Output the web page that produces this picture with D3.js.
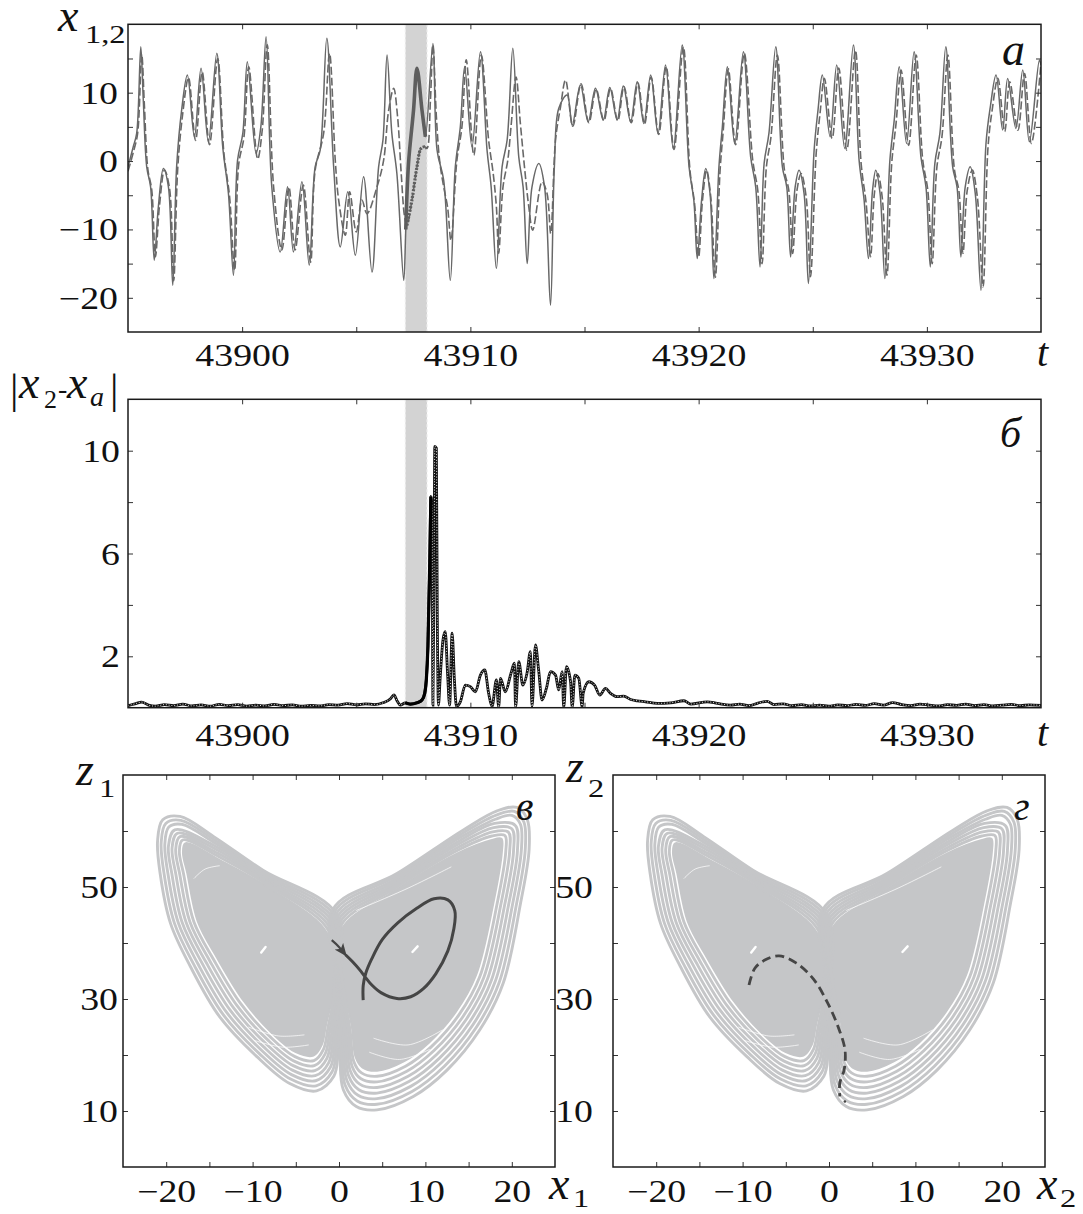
<!DOCTYPE html>
<html>
<head>
<meta charset="utf-8">
<script src="https://cdn.jsdelivr.net/npm/d3@7"></script>
<style>body{margin:0;background:#fff}</style>
</head>
<body>
<script>
// ---- data ----
const tTicks = [43900, 43910, 43920, 43930];
const tMinor = [43900, 43905, 43910, 43915, 43920, 43925, 43930];
const aTicks = [-20, -10, 0, 10];
const aMinor = [-20, -15, -10, -5, 0, 5, 10, 15];
const bTicks = [2, 6, 10];
const bMinor = [2, 4, 6, 8, 10];
const xyTicks = [-20, -10, 0, 10, 20];
const xyMinor = [-20, -15, -10, -5, 0, 5, 10, 15, 20];
const zTicks = [10, 30, 50];
const zMinor = [10, 20, 30, 40, 50, 60];
const shadeT = [43907.15, 43908.1];

// x1 (solid)
const x1 = [[43895.0,-0.84],[43895.23,2.09],[43895.38,4.04],[43895.56,16.73],[43895.67,8.9],[43895.82,-0.84],[43895.99,-3.77],[43896.15,-14.5],[43896.33,-6.7],[43896.55,-1.09],[43896.77,-3.77],[43896.96,-18.17],[43897.13,-0.84],[43897.35,7.45],[43897.6,12.58],[43897.91,3.55],[43898.2,13.56],[43898.52,2.82],[43898.89,15.75],[43899.15,2.09],[43899.4,-4.75],[43899.62,-16.7],[43899.8,0.13],[43900.03,4.04],[43900.23,14.53],[43900.61,1.11],[43900.82,5.01],[43901.05,18.19],[43901.3,-3.77],[43901.67,-13.29],[43901.99,-3.77],[43902.25,-13.29],[43902.62,-3.04],[43902.94,-15.24],[43903.2,-0.84],[43903.42,1.6],[43903.71,17.95],[43904.01,-0.84],[43904.3,-12.56],[43904.63,-4.5],[43904.96,-13.78],[43905.32,-2.31],[43905.69,-16.22],[43905.98,-0.84],[43906.17,3.06],[43906.35,15.51],[43906.56,4.04],[43906.78,-1.82],[43907.08,-17.44],[43907.17,-10.0],[43907.29,-0.35],[43907.51,7.45],[43907.66,13.56],[43907.88,7.45],[43908.03,3.55],[43908.36,17.2],[43908.54,1.6],[43908.83,-2.8],[43909.12,-17.44],[43909.34,-0.84],[43909.56,5.01],[43909.75,13.8],[43910.07,2.09],[43910.44,16.0],[43910.73,1.6],[43910.91,-3.77],[43911.14,-15.73],[43911.39,-0.84],[43911.61,3.06],[43911.86,16.48],[43912.12,0.62],[43912.31,-3.77],[43912.49,-15.0],[43912.7,-3.77],[43913.0,-0.35],[43913.25,-3.77],[43913.51,-21.1],[43913.68,-0.84],[43913.87,7.7],[43914.24,9.65],[43914.46,5.26],[43914.82,11.12],[43915.16,5.75],[43915.48,10.63],[43915.82,5.99],[43916.11,10.77],[43916.43,5.99],[43916.7,10.97],[43917.02,5.75],[43917.31,11.6],[43917.6,5.5],[43917.9,12.58],[43918.22,4.04],[43918.55,14.04],[43918.89,1.84],[43919.28,16.97],[43919.58,-0.84],[43919.79,-5.72],[43919.94,-14.26],[43920.13,-5.72],[43920.31,-1.09],[43920.5,-4.75],[43920.67,-17.19],[43920.89,-0.84],[43921.04,5.01],[43921.26,13.8],[43921.58,2.57],[43921.96,16.0],[43922.28,0.62],[43922.5,-3.77],[43922.69,-15.48],[43922.87,-0.35],[43923.08,4.04],[43923.38,16.73],[43923.67,-0.84],[43923.86,-3.77],[43924.03,-14.02],[43924.23,-3.77],[43924.4,-1.33],[43924.62,-4.75],[43924.81,-17.92],[43925.06,1.6],[43925.23,7.45],[43925.42,12.58],[43925.76,3.55],[43926.05,14.04],[43926.4,1.84],[43926.78,16.97],[43927.03,0.13],[43927.25,-5.72],[43927.44,-14.26],[43927.62,-4.26],[43927.76,-1.33],[43927.95,-4.75],[43928.16,-17.19],[43928.38,0.13],[43928.57,5.99],[43928.79,13.8],[43929.11,2.57],[43929.44,16.0],[43929.74,0.62],[43929.96,-3.77],[43930.15,-15.48],[43930.35,-0.35],[43930.57,4.04],[43930.83,16.73],[43931.13,-0.84],[43931.32,-3.77],[43931.49,-14.02],[43931.68,-3.77],[43931.9,-0.84],[43932.12,-4.75],[43932.37,-18.9],[43932.59,2.57],[43932.78,7.94],[43933.03,12.58],[43933.32,4.53],[43933.54,12.09],[43933.9,4.77],[43934.2,13.31],[43934.49,2.82],[43934.93,14.77],[43935.0,14.0]];

// x2 (dashed)
const x2 = [[43895.0,-1.5],[43895.25,1.5],[43895.42,4.0],[43895.6,15.6],[43895.72,8.0],[43895.87,-1.2],[43896.04,-4.2],[43896.2,-14.0],[43896.38,-6.5],[43896.6,-1.3],[43896.82,-4.0],[43897.0,-17.5],[43897.18,-1.0],[43897.4,7.0],[43897.65,12.2],[43897.96,3.0],[43898.25,13.0],[43898.57,2.4],[43898.93,15.0],[43899.2,1.2],[43899.45,-5.2],[43899.67,-16.0],[43899.85,-0.5],[43900.08,3.5],[43900.29,13.8],[43900.68,0.3],[43900.88,4.5],[43901.1,17.0],[43901.38,-3.8],[43901.74,-13.0],[43902.05,-3.8],[43902.32,-13.0],[43902.68,-3.5],[43903.0,-14.8],[43903.2,-1.33],[43903.57,4.04],[43903.83,15.75],[43904.08,0.13],[43904.23,-5.72],[43904.52,-10.85],[43904.71,-4.5],[43905.0,-10.36],[43905.25,-5.72],[43905.47,-7.7],[43905.91,-3.77],[43906.2,0.13],[43906.42,7.45],[43906.64,10.63],[43906.81,6.5],[43906.97,-1.82],[43907.12,-8.2],[43907.22,-9.4],[43907.44,-5.7],[43907.66,-0.84],[43907.84,1.84],[43908.0,2.09],[43908.1,1.84],[43908.25,8.9],[43908.36,17.0],[43908.51,6.5],[43908.65,0.13],[43908.83,-3.77],[43909.0,-6.7],[43909.15,-11.6],[43909.41,0.13],[43909.63,5.0],[43909.82,14.8],[43910.15,0.87],[43910.48,15.5],[43910.8,3.06],[43911.0,-1.82],[43911.14,-6.7],[43911.24,-13.5],[43911.43,-3.77],[43911.64,0.13],[43911.78,5.0],[43912.0,12.3],[43912.19,5.5],[43912.37,-0.84],[43912.56,-6.7],[43912.73,-10.1],[43913.14,-3.04],[43913.36,-4.75],[43913.52,-10.6],[43913.73,3.06],[43913.95,7.94],[43914.17,11.85],[43914.49,5.1],[43914.85,11.3],[43915.19,5.6],[43915.51,10.5],[43915.85,5.9],[43916.14,10.6],[43916.46,5.9],[43916.73,10.9],[43917.05,5.6],[43917.34,11.45],[43917.63,5.4],[43917.92,12.3],[43918.25,3.9],[43918.58,13.8],[43918.92,1.7],[43919.33,16.7],[43919.62,-1.33],[43919.82,-6.2],[43920.0,-14.0],[43920.17,-5.72],[43920.35,-1.33],[43920.53,-5.2],[43920.73,-17.0],[43920.94,-1.33],[43921.08,4.5],[43921.3,13.5],[43921.62,2.4],[43922.0,15.75],[43922.37,0.13],[43922.59,-4.26],[43922.78,-15.0],[43922.97,-0.84],[43923.17,3.55],[43923.45,15.5],[43923.76,-1.33],[43923.95,-4.26],[43924.12,-13.5],[43924.31,-4.26],[43924.49,-1.82],[43924.71,-5.2],[43924.9,-16.9],[43925.15,1.1],[43925.32,7.0],[43925.51,12.1],[43925.85,3.3],[43926.14,13.6],[43926.49,1.6],[43926.87,16.2],[43927.12,-0.35],[43927.34,-6.2],[43927.53,-14.0],[43927.7,-4.75],[43927.85,-1.82],[43928.04,-5.2],[43928.25,-16.7],[43928.46,-0.35],[43928.65,5.5],[43928.87,13.3],[43929.2,2.3],[43929.53,15.5],[43929.82,0.13],[43930.04,-4.26],[43930.23,-15.0],[43930.44,-0.84],[43930.66,3.55],[43930.92,15.5],[43931.21,-1.33],[43931.4,-4.26],[43931.58,-13.5],[43931.77,-4.26],[43931.99,-1.33],[43932.21,-5.2],[43932.46,-18.4],[43932.68,2.09],[43932.86,7.45],[43933.11,12.1],[43933.41,4.3],[43933.63,11.6],[43933.99,4.5],[43934.28,12.8],[43934.58,2.57],[43935.0,14.3]];

// |x2 - xa|
const err = [[43895.0,0.08],[43895.3,0.15],[43895.6,0.22],[43895.9,0.1],[43896.2,0.06],[43896.6,0.12],[43897.0,0.08],[43897.4,0.14],[43897.8,0.07],[43898.2,0.11],[43898.6,0.06],[43899.0,0.13],[43899.4,0.08],[43899.8,0.12],[43900.2,0.06],[43900.6,0.1],[43901.0,0.07],[43901.4,0.13],[43901.8,0.08],[43902.2,0.11],[43902.6,0.06],[43903.0,0.09],[43903.4,0.07],[43903.8,0.12],[43904.2,0.1],[43904.6,0.16],[43905.0,0.11],[43905.4,0.15],[43905.8,0.12],[43906.2,0.2],[43906.5,0.35],[43906.65,0.5],[43906.8,0.25],[43906.93,0.1],[43907.15,0.19],[43907.37,0.14],[43907.66,0.19],[43907.88,0.3],[43908.0,0.56],[43908.07,1.08],[43908.14,2.38],[43908.22,5.62],[43908.27,8.22],[43908.32,7.83],[43908.36,0.1],[43908.41,4.97],[43908.44,10.17],[43908.51,10.1],[43908.55,3.67],[43908.6,0.1],[43908.68,1.21],[43908.8,2.64],[43908.9,2.96],[43909.0,1.34],[43909.09,0.1],[43909.2,2.9],[43909.3,1.08],[43909.39,0.05],[43909.56,0.23],[43909.78,0.88],[43910.0,0.82],[43910.22,0.62],[43910.44,1.27],[43910.63,1.47],[43910.8,0.56],[43910.95,0.05],[43911.14,1.08],[43911.24,0.02],[43911.32,1.14],[43911.53,0.62],[43911.78,1.34],[43911.93,1.73],[43911.98,0.02],[43912.12,1.79],[43912.3,0.88],[43912.48,1.34],[43912.63,2.18],[43912.7,0.05],[43912.85,2.44],[43912.99,1.47],[43913.14,0.3],[43913.33,0.75],[43913.51,1.4],[43913.73,1.27],[43913.87,0.69],[43914.02,1.4],[43914.09,0.02],[43914.21,1.6],[43914.39,1.01],[43914.46,0.02],[43914.58,1.27],[43914.75,1.14],[43914.9,0.02],[43914.94,0.56],[43915.19,1.01],[43915.44,0.88],[43915.67,0.49],[43915.92,0.75],[43916.14,0.56],[43916.43,0.43],[43916.72,0.45],[43917.02,0.32],[43917.31,0.27],[43917.67,0.23],[43918.19,0.17],[43918.77,0.19],[43919.36,0.27],[43919.65,0.14],[43920.38,0.23],[43920.82,0.17],[43921.4,0.1],[43921.8,0.14],[43922.2,0.08],[43922.6,0.18],[43923.0,0.25],[43923.3,0.12],[43923.7,0.15],[43924.1,0.08],[43924.5,0.12],[43924.9,0.07],[43925.3,0.1],[43925.7,0.06],[43926.1,0.11],[43926.5,0.08],[43926.9,0.13],[43927.3,0.09],[43927.7,0.16],[43928.1,0.1],[43928.5,0.2],[43928.9,0.12],[43929.3,0.08],[43929.7,0.14],[43930.1,0.1],[43930.5,0.07],[43930.9,0.12],[43931.3,0.09],[43931.7,0.14],[43932.1,0.08],[43932.5,0.12],[43932.9,0.07],[43933.3,0.1],[43933.7,0.13],[43934.1,0.08],[43934.5,0.11],[43935.0,0.09]];

// attractor loops (x, z), outer -> inner; the last loop of each wing is the filled core
const leftLoops = [
  [[-0.3,45.2],[-8.8,53.0],[-14.5,59.0],[-18.4,62.6],[-20.4,62.0],[-21.0,58.2],[-20.7,52.4],[-19.5,43.5],[-17.2,35.8],[-13.8,26.8],[-9.5,19.7],[-5.7,14.9],[-2.6,13.6],[-0.6,16.2],[-0.1,20.5],[0.2,32]],
  [[-0.45,44.7],[-8.65,52.5],[-14.4,58.4],[-18.3,61.9],[-20.05,61.35],[-20.58,57.9],[-20.25,52.4],[-19.05,43.55],[-16.75,36.0],[-13.4,27.2],[-9.25,20.3],[-5.6,15.7],[-2.65,14.5],[-0.8,17.0],[-0.3,21.2],[0.08,32]],
  [[-0.6,44.2],[-8.5,52.0],[-14.3,57.8],[-18.2,61.2],[-19.7,60.7],[-20.16,57.6],[-19.8,52.4],[-18.6,43.6],[-16.3,36.2],[-13.0,27.6],[-9.0,20.9],[-5.5,16.5],[-2.7,15.4],[-1.0,17.8],[-0.5,21.9],[-0.04,32]],
  [[-0.75,43.7],[-8.35,51.5],[-14.2,57.2],[-19.0,60.2],[-19.74,57.3],[-19.35,52.4],[-18.15,43.65],[-15.85,36.4],[-12.6,28.0],[-8.75,21.5],[-5.4,17.3],[-2.75,16.3],[-1.2,18.6],[-0.7,22.6],[-0.16,32]],
  [[-0.9,43.2],[-8.2,51.0],[-14.1,56.6],[-18.7,59.6],[-19.32,57.0],[-18.9,52.4],[-17.7,43.7],[-15.4,36.6],[-12.2,28.4],[-8.5,22.1],[-5.3,18.1],[-2.8,17.2],[-1.4,19.4],[-0.9,23.3],[-0.28,32]],
  [[-1.05,42.7],[-8.05,50.5],[-14.0,56.0],[-18.4,59.0],[-18.9,56.7],[-18.45,52.4],[-17.25,43.75],[-14.95,36.8],[-11.8,28.8],[-8.25,22.7],[-5.2,18.9],[-2.85,18.1],[-1.6,20.2],[-1.1,24.0],[-0.4,32]],
  [[-1.2,42.2],[-7.9,50.0],[-13.9,55.4],[-18.1,58.4],[-18.48,56.4],[-18.0,52.4],[-16.8,43.8],[-14.5,37.0],[-11.4,29.2],[-8.0,23.3],[-5.1,19.7],[-2.9,19.0],[-1.8,21.0],[-1.3,24.7],[-0.52,32]],
  [[-1.35,41.7],[-7.75,49.5],[-13.8,54.8],[-17.8,57.8],[-18.06,56.1],[-17.55,52.4],[-16.35,43.85],[-14.05,37.2],[-11.0,29.6],[-7.75,23.9],[-5.0,20.5],[-2.95,19.9],[-2.0,21.8],[-1.5,25.4],[-0.64,32]]
];
const rightLoops = [
  [[-0.7,46.0],[6.7,52.4],[14.4,60.2],[18.3,63.6],[20.6,64.2],[21.8,62.0],[22.0,56.6],[21.0,47],[19.0,32.8],[16.3,24.5],[12.5,17.3],[8.6,12.6],[4.4,10.2],[2.0,10.8],[0.5,13.8],[0.1,20],[-0.2,32]],
  [[-0.55,45.5],[6.6,51.9],[14.3,59.6],[18.2,62.85],[20.3,63.5],[21.4,61.6],[21.55,56.55],[20.55,47],[18.55,33.0],[15.9,24.95],[12.2,18.0],[8.45,13.5],[4.4,11.2],[2.1,11.8],[0.7,14.65],[0.3,20.7],[-0.08,32]],
  [[-0.4,45.0],[6.5,51.4],[14.2,59.0],[18.1,62.1],[20.0,62.8],[21.0,61.2],[21.1,56.5],[20.1,47],[18.1,33.2],[15.5,25.4],[11.9,18.7],[8.3,14.4],[4.4,12.2],[2.2,12.8],[0.9,15.5],[0.5,21.4],[0.04,32]],
  [[-0.25,44.5],[6.4,50.9],[14.1,58.4],[18.0,61.35],[20.4,61.0],[20.65,56.45],[19.65,47],[17.65,33.4],[15.1,25.85],[11.6,19.4],[8.15,15.3],[4.4,13.2],[2.3,13.8],[1.1,16.35],[0.7,22.1],[0.16,32]],
  [[-0.1,44.0],[6.3,50.4],[14.0,57.8],[17.9,60.6],[20.0,60.4],[20.2,56.4],[19.2,47],[17.2,33.6],[14.7,26.3],[11.3,20.1],[8.0,16.2],[4.4,14.2],[2.4,14.8],[1.3,17.2],[0.9,22.8],[0.28,32]],
  [[0.05,43.5],[6.2,49.9],[13.9,57.2],[17.8,59.85],[19.6,59.8],[19.75,56.35],[18.75,47],[16.75,33.8],[14.3,26.75],[11.0,20.8],[7.85,17.1],[4.4,15.2],[2.5,15.8],[1.5,18.05],[1.1,23.5],[0.4,32]],
  [[0.2,43.0],[6.1,49.4],[13.8,56.6],[17.7,59.1],[19.2,59.2],[19.3,56.3],[18.3,47],[16.3,34.0],[13.9,27.2],[10.7,21.5],[7.7,18.0],[4.4,16.2],[2.6,16.8],[1.7,18.9],[1.3,24.2],[0.52,32]],
  [[0.35,42.5],[6.0,48.9],[13.7,56.0],[17.6,58.35],[18.8,58.6],[18.85,56.25],[17.85,47],[15.85,34.2],[13.5,27.65],[10.4,22.2],[7.55,18.9],[4.4,17.2],[2.7,17.8],[1.9,19.75],[1.5,24.9],[0.64,32]]
];
const gapArcs = [
  [[-16.8,51.5],[-15.5,53.2],[-13.8,53.8]],
  [[-9.8,22.6],[-6.5,21.4],[-3.5,21.8]],
  [[-10.5,25.0],[-7.0,23.4],[-4.0,23.6]],
  [[3.5,20.5],[7.0,19.2],[10.5,21.0]],
  [[4.0,23.0],[8.0,21.8],[12.0,24.5]],
  [[2.0,45.8],[8.0,49.8],[13.0,53.6]]
];
const fixedSpots = [[[-9.0,38.3],[-8.5,39.3]], [[8.5,38.4],[9.1,39.4]]];

// highlighted trajectories
const trajArrow = [[-0.84,40.5],[0.0,39.3],[0.75,37.9]];
const trajLoop = [[0.75,37.9],[1.6,36.6],[2.4,35.2],[3.0,34.0],[3.8,32.5],[4.9,31.1],[6.7,30.1],[8.3,30.4],[9.8,31.9],[11.2,34.5],[12.6,38.6],[13.3,42.6],[13.4,45.8],[12.6,47.7],[11.0,47.9],[9.0,46.2],[6.8,43.6],[5.0,40.6],[3.8,37.2],[3.1,34.6],[2.8,32.4],[2.8,29.8]];
const trajDashed = [[-9.26,32.5],[-8.58,35.5],[-7.37,37.0],[-5.78,37.7],[-3.77,36.4],[-1.77,33.5],[-0.16,29.3],[1.04,25.1],[1.84,21.0],[1.76,17.4],[1.25,15.0],[1.25,12.6]];
const trajDot = [[1.84,11.7]];

// ---- drawing ----
const FONT = "Liberation Serif";
const SX = 1.22;
const GRAY = "#c5c6c8";
const LINE = "#686868";

const svg = d3.select("body").append("svg")
  .attr("width", 1083).attr("height", 1214)
  .attr("font-family", FONT);

const defs = svg.append("defs");
defs.append("marker")
    .attr("id", "arr").attr("viewBox", "0 0 12 10")
    .attr("refX", 10).attr("refY", 5)
    .attr("markerWidth", 13).attr("markerHeight", 11)
    .attr("markerUnits", "userSpaceOnUse").attr("orient", "auto")
  .append("path")
    .attr("d", "M0,0 L12,5 L0,10 L3,5 Z").attr("fill", "#444");

function panel(id, box, xDom, yDom) {
  const x = d3.scaleLinear(xDom, [box.x0, box.x1]);
  const y = d3.scaleLinear(yDom, [box.y1, box.y0]);
  const g = svg.append("g");
  defs.append("clipPath").attr("id", id)
    .append("rect")
      .attr("x", box.x0).attr("y", box.y0)
      .attr("width", box.x1 - box.x0).attr("height", box.y1 - box.y0);
  const plot = g.append("g").attr("clip-path", `url(#${id})`);
  return { x, y, g, plot, box };
}

function frame(p, xMinor, yMinor) {
  const { g, x, y, box } = p;
  const tick = (axis, tx, ty) => g.append("g")
      .attr("transform", `translate(${tx},${ty})`)
      .call(axis.tickSize(-5).tickFormat(""))
      .call(s => s.select(".domain").remove())
      .selectAll("line").attr("stroke", "#333").attr("stroke-width", 1);
  tick(d3.axisBottom(x).tickValues(xMinor), 0, box.y1);
  tick(d3.axisTop(x).tickValues(xMinor), 0, box.y0);
  tick(d3.axisLeft(y).tickValues(yMinor), box.x0, 0);
  tick(d3.axisRight(y).tickValues(yMinor), box.x1, 0);
  g.append("rect")
    .attr("x", box.x0).attr("y", box.y0)
    .attr("width", box.x1 - box.x0).attr("height", box.y1 - box.y0)
    .attr("fill", "none").attr("stroke", "#1a1a1a").attr("stroke-width", 1.5);
}

function xLabels(p, values, baseline) {
  const a = p.g.append("g")
      .attr("transform", `translate(0,${baseline})`)
      .call(d3.axisBottom(p.x).tickValues(values).tickSize(0).tickPadding(0).tickFormat(d3.format("d")));
  a.select(".domain").remove();
  a.attr("font-size", 31).attr("font-family", FONT);
  a.selectAll("text").attr("y", 0).attr("dy", null)
    .attr("font-family", FONT).attr("fill", "#111")
    .attr("transform", `scale(${SX},1)`);
}

function yLabels(p, values, xRight) {
  const a = p.g.append("g")
      .attr("transform", `translate(${xRight},0)`)
      .call(d3.axisLeft(p.y).tickValues(values).tickSize(0).tickPadding(0).tickFormat(d3.format("d")));
  a.select(".domain").remove();
  a.attr("font-size", 31).attr("font-family", FONT);
  a.selectAll("text").attr("x", 0).attr("dy", "0.34em")
    .attr("font-family", FONT).attr("fill", "#111")
    .attr("transform", `scale(${SX},1)`);
}

function txt(x, y, s, size, italic, stretch) {
  svg.append("text")
    .attr("transform", `translate(${x},${y}) scale(${stretch || 1},1)`)
    .attr("font-family", FONT)
    .attr("font-size", size)
    .attr("font-style", italic ? "italic" : "normal")
    .attr("fill", "#111")
    .text(s);
}

function shade(p) {
  const x0 = p.x(shadeT[0]), x1 = p.x(shadeT[1]);
  p.plot.append("rect")
    .attr("x", x0).attr("y", p.box.y0)
    .attr("width", x1 - x0).attr("height", p.box.y1 - p.box.y0)
    .attr("fill", "#d3d3d3");
  p.plot.selectAll(null).data([x0, x1]).join("line")
    .attr("x1", d => d).attr("x2", d => d)
    .attr("y1", p.box.y0).attr("y2", p.box.y1)
    .attr("stroke", "#ececec").attr("stroke-width", 1.2)
    .attr("stroke-dasharray", "3,2");
}

const inBand = d => d[0] >= 43907.15 && d[0] <= 43908.15;

// ---- panel a ----
const A = panel("clipA", { x0: 128, x1: 1041, y0: 24.3, y1: 332 }, [43895, 43935], [-25, 20]);
shade(A);
const lineA = d3.line().x(d => A.x(d[0])).y(d => A.y(d[1])).curve(d3.curveCatmullRom.alpha(0.5));
A.plot.append("path").attr("d", lineA(x2))
  .attr("fill", "none").attr("stroke", LINE).attr("stroke-width", 1.6)
  .attr("stroke-dasharray", "8,3");
A.plot.append("path").attr("d", lineA(x1))
  .attr("fill", "none").attr("stroke", LINE).attr("stroke-width", 1.5);
A.plot.append("path").attr("d", lineA(x1.filter(inBand)))
  .attr("fill", "none").attr("stroke", "#5e5e5e").attr("stroke-width", 3.6);
A.plot.append("path").attr("d", lineA(x2.filter(inBand)))
  .attr("fill", "none").attr("stroke", "#5e5e5e").attr("stroke-width", 3.2)
  .attr("stroke-dasharray", "2,1.5");
frame(A, tMinor, aMinor);
xLabels(A, tTicks, 366);
yLabels(A, aTicks, 118);

// ---- panel b ----
const B = panel("clipB", { x0: 128, x1: 1041, y0: 399.3, y1: 707.7 }, [43895, 43935], [0, 12]);
shade(B);
const lineB = d3.line().x(d => B.x(d[0])).y(d => B.y(d[1])).curve(d3.curveMonotoneX);
B.plot.append("path").attr("d", lineB(err))
  .attr("fill", "none").attr("stroke", "#111").attr("stroke-width", 2.8);
B.plot.append("path").attr("d", lineB(err))
  .attr("fill", "none").attr("stroke", "#fff").attr("stroke-width", 0.9)
  .attr("stroke-dasharray", "1,1.8");
B.plot.append("path").attr("d", lineB(err.filter(d => d[0] >= 43907.1 && d[0] <= 43908.3)))
  .attr("fill", "none").attr("stroke", "#000").attr("stroke-width", 3.2);
frame(B, tMinor, bMinor);
xLabels(B, tTicks, 746);
yLabels(B, bTicks, 120);

// ---- attractors ----
function attractor(p) {
  const closed = d3.line().x(d => p.x(d[0])).y(d => p.y(d[1])).curve(d3.curveCatmullRomClosed.alpha(0.5));
  const open = d3.line().x(d => p.x(d[0])).y(d => p.y(d[1])).curve(d3.curveCatmullRom.alpha(0.5));
  [leftLoops, rightLoops].forEach(loops => {
    p.plot.append("path").attr("d", closed(loops[loops.length - 1]))
      .attr("fill", GRAY).attr("stroke", GRAY).attr("stroke-width", 2);
  });
  [leftLoops, rightLoops].forEach(loops => {
    p.plot.selectAll(null).data(loops.slice(0, -1)).join("path")
      .attr("d", closed).attr("fill", "none")
      .attr("stroke", GRAY).attr("stroke-width", 2.9);
  });
  p.plot.selectAll(null).data(gapArcs).join("path")
    .attr("d", open).attr("fill", "none")
    .attr("stroke", "#fff").attr("stroke-width", 0.9).attr("stroke-opacity", 0.8);
  p.plot.selectAll(null).data(fixedSpots).join("path")
    .attr("d", open).attr("fill", "none")
    .attr("stroke", "#fff").attr("stroke-width", 2.4).attr("stroke-linecap", "round");
  return open;
}

const C = panel("clipC", { x0: 123, x1: 555, y0: 775, y1: 1167 }, [-25, 25], [0, 70]);
const openC = attractor(C);
C.plot.append("path").attr("d", openC(trajLoop))
  .attr("fill", "none").attr("stroke", "#454545").attr("stroke-width", 3);
C.plot.append("path").attr("d", openC(trajArrow))
  .attr("fill", "none").attr("stroke", "#454545").attr("stroke-width", 2.2)
  .attr("marker-end", "url(#arr)");
frame(C, xyMinor, zMinor);
xLabels(C, xyTicks, 1202);
yLabels(C, zTicks, 118);

const D = panel("clipD", { x0: 613, x1: 1045, y0: 775, y1: 1167 }, [-25, 25], [0, 70]);
const openD = attractor(D);
D.plot.append("path").attr("d", openD(trajDashed))
  .attr("fill", "none").attr("stroke", "#454545").attr("stroke-width", 2.8)
  .attr("stroke-dasharray", "9,5");
D.plot.selectAll(null).data(trajDot).join("circle")
  .attr("cx", d => D.x(d[0])).attr("cy", d => D.y(d[1])).attr("r", 1.3).attr("fill", "#454545");
frame(D, xyMinor, zMinor);
xLabels(D, xyTicks, 1202);
yLabels(D, zTicks, 593);

// ---- titles and panel letters ----
txt(58, 31, "x", 46, true);
txt(85, 43, "1,2", 26, false, 1.25);
txt(1037, 366, "t", 40, true);
txt(1037, 746, "t", 40, true);

txt(10, 403, "|", 42, false);
txt(19, 398, "x", 46, true);
txt(44, 408, "2", 26, false);
txt(58, 398, "-", 28, false);
txt(67, 398, "x", 46, true);
txt(90, 406, "a", 28, true);
txt(110, 403, "|", 42, false);

txt(1002, 65, "а", 46, true);
txt(1000, 447, "б", 42, true);
txt(516, 820, "в", 40, true);
txt(1014, 820, "г", 40, true);

txt(76, 785, "z", 46, true);
txt(99, 797, "1", 26, false, 1.25);
txt(566, 782, "z", 46, true);
txt(588, 797, "2", 26, false, 1.25);
txt(549, 1199, "x", 46, true);
txt(573, 1207, "1", 26, false, 1.25);
txt(1037, 1199, "x", 46, true);
txt(1060, 1207, "2", 26, false, 1.25);
</script>
</body>
</html>
